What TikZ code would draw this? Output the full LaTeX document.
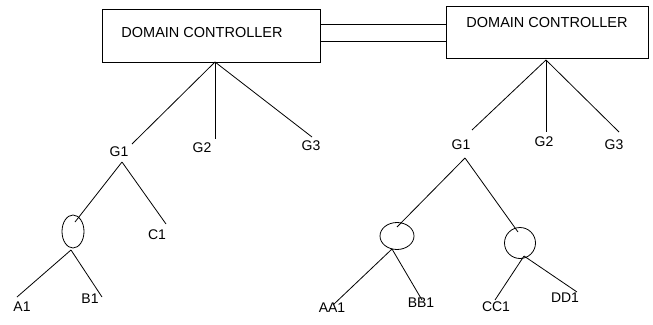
\documentclass[tikz,border=0pt]{standalone}
\usepackage{fontspec}
\setmainfont{Liberation Sans}
\usetikzlibrary{shapes.geometric}
\begin{document}
\begin{tikzpicture}[x=1pt,y=-1pt,
  wire/.style={line width=0.8pt},
  ctrl/.style={draw,line width=0.8pt,inner sep=0pt},
  leaf/.style={inner sep=0pt,font=\fontsize{14}{16}\selectfont},
  ctrltext/.style={inner sep=0pt,font=\fontsize{14.5}{16}\selectfont},
  hub/.style={draw,ellipse,line width=0.8pt,inner sep=0pt}]
\useasboundingbox (0,0) rectangle (653,324);

% domain controllers
\node[ctrl,minimum width=218pt,minimum height=53pt] (ldc) at (211,35.5) {};
\node[ctrltext] (ldct) at (202,33) {DOMAIN CONTROLLER};
\node[ctrl,minimum width=202pt,minimum height=52pt] (rdc) at (547,32) {};
\node[ctrltext] (rdct) at (547,23) {DOMAIN CONTROLLER};

% double link between the controllers
\draw[wire] (ldc.east |- 0,24) -- (rdc.west |- 0,24);
\draw[wire] (ldc.east |- 0,41) -- (rdc.west |- 0,41);

% left tree
\coordinate (lroot) at (215,62);
\node[leaf] (lg1) at (119,152) {G1};
\node[leaf] (lg2) at (202,148) {G2};
\node[leaf] (lg3) at (311,146) {G3};
\coordinate (lg1e) at (132,144);
\coordinate (lg2e) at (215,139);
\coordinate (lg3e) at (312,137);
\draw[wire] (lroot) -- (lg1e);
\draw[wire] (lroot) -- (lg2e);
\draw[wire] (lroot) -- (lg3e);

\coordinate (lg1top) at (122,162);
\node[hub,minimum width=22pt,minimum height=33pt] (lh) at (73,231.5) {};
\node[leaf] (c1) at (157,235) {C1};
\coordinate (lhe) at (75,222);
\coordinate (c1e) at (166,224);
\draw[wire] (lg1top) -- (lhe);
\draw[wire] (lg1top) -- (c1e);

\node[leaf] (a1) at (22,307) {A1};
\node[leaf] (b1) at (90,299) {B1};
\coordinate (lhb) at (71,250);
\coordinate (a1e) at (17,297);
\coordinate (b1e) at (102,297);
\draw[wire] (lhb) -- (a1e);
\draw[wire] (lhb) -- (b1e);

% right tree
\coordinate (rroot) at (546,60);
\node[leaf] (rg1) at (461,145) {G1};
\node[leaf] (rg2) at (544,142) {G2};
\node[leaf] (rg3) at (614,145) {G3};
\coordinate (rg1e) at (472,130);
\coordinate (rg2e) at (546,132);
\coordinate (rg3e) at (619,132);
\draw[wire] (rroot) -- (rg1e);
\draw[wire] (rroot) -- (rg2e);
\draw[wire] (rroot) -- (rg3e);

\coordinate (rg1top) at (465,158);
\node[hub,minimum width=34pt,minimum height=27pt] (rh1) at (397,236) {};
\node[hub,minimum width=31pt,minimum height=31pt] (rh2) at (520,243) {};
\coordinate (rh1e) at (397,227);
\coordinate (rh2e) at (518,232);
\draw[wire] (rg1top) -- (rh1e);
\draw[wire] (rg1top) -- (rh2e);

\node[leaf] (aa1) at (332,308) {AA1};
\node[leaf] (bb1) at (421,303) {BB1};
\coordinate (rh1b) at (392,249);
\coordinate (aa1e) at (333,305);
\coordinate (bb1e) at (422,300);
\draw[wire] (rh1b) -- (aa1e);
\draw[wire] (rh1b) -- (bb1e);

\node[leaf] (cc1) at (496,307) {CC1};
\node[leaf] (dd1) at (565,298) {DD1};
\coordinate (rh2b) at (524,256);
\coordinate (cc1e) at (495,300);
\coordinate (dd1e) at (577,292);
\draw[wire] (rh2b) -- (cc1e);
\draw[wire] (rh2b) -- (dd1e);
\end{tikzpicture}
\end{document}
